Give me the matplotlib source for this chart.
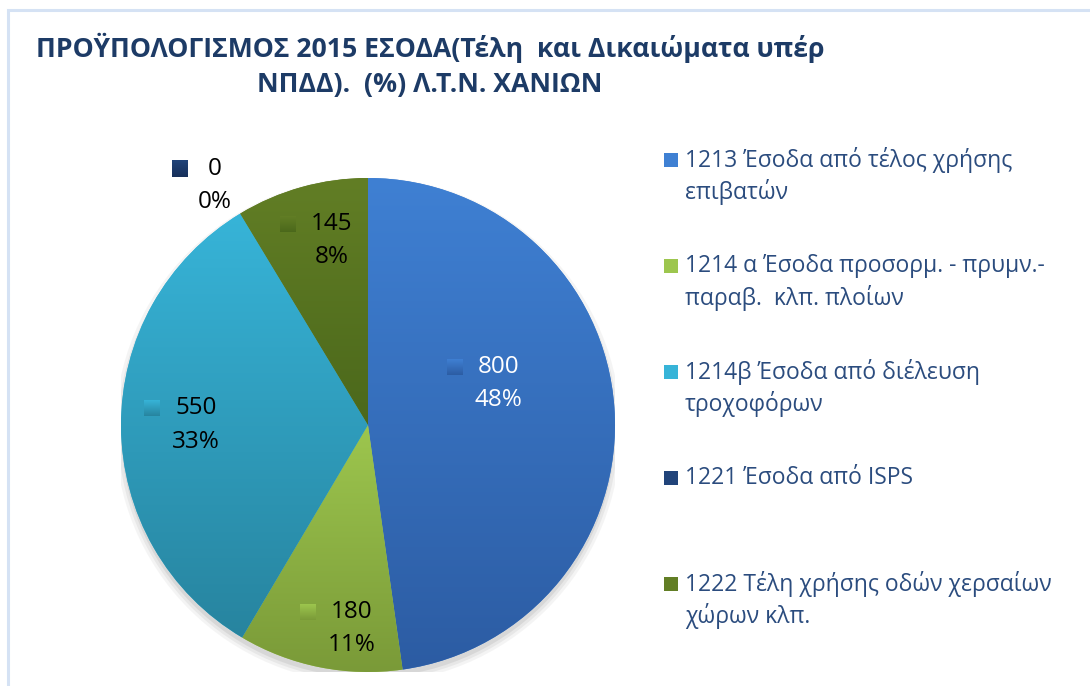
import numpy as np
import matplotlib
matplotlib.use("Agg")
import matplotlib.pyplot as plt
from matplotlib.colors import LinearSegmentedColormap
from matplotlib.patches import Rectangle, Circle

plt.rcParams["font.family"] = ["Open Sans", "DejaVu Sans"]

# --- data
title_lines = [
    "ΠΡΟΫΠΟΛΟΓΙΣΜΟΣ 2015 ΕΣΟΔΑ(Τέλη  και Δικαιώματα υπέρ",
    "ΝΠΔΔ).  (%) Λ.Τ.Ν. ΧΑΝΙΩΝ",
]
categories = [
    ["1213 Έσοδα από τέλος χρήσης", "επιβατών"],
    ["1214 α Έσοδα προσορμ. - πρυμν.-", "παραβ.  κλπ. πλοίων"],
    ["1214β Έσοδα από διέλευση", "τροχοφόρων"],
    ["1221 Έσοδα από ISPS"],
    ["1222 Τέλη χρήσης οδών χερσαίων", "χώρων κλπ."],
]
values = [800, 180, 550, 0, 145]
pct_labels = ["48%", "11%", "33%", "0%", "8%"]

# --- styling
top_colors = ["#3f80d3", "#9dc64e", "#37b4d8", "#21447a", "#627e25"]
bottom_colors = ["#2c5ca3", "#7a9a38", "#27849f", "#17305a", "#4b681b"]
label_colors = ["white", "black", "black", "black", "black"]
# label block centres in pie units (radius = 1)
label_pos = [(0.53, 0.166), (-0.065, -0.824), (-0.696, 0.0), (-0.619, 0.97), (-0.146, 0.745)]

W, H = 1090, 686
fig = plt.figure(figsize=(W / 100, H / 100), dpi=100)


def fx(px):
    return px / W


def fy(py):
    return 1 - py / H


# chart area border
fig.patches.append(Rectangle((fx(8), -0.1), 1.2, fy(10) + 0.1, transform=fig.transFigure,
                             facecolor="none", edgecolor="#d5e2f4", linewidth=2.2))

# title
for i, line in enumerate(title_lines):
    fig.text(fx(430), fy(48 + 37 * i), line, ha="center", va="center",
             fontsize=19.2, fontweight="bold", color="#1d3b66")

# pie axes: centre (368, 425) px, radius 247 px
cx, cy, r = 368, 425, 247
ax = fig.add_axes([fx(cx - r), fy(cy + r), 2 * r / W, 2 * r / H])

# soft shadow under the pie
for k, a in enumerate([0.08, 0.10, 0.14]):
    ax.add_patch(Circle((0.0, -0.022), 1.0 + 0.012 * (2 - k), color="#7a7a7a",
                        alpha=a, linewidth=0, zorder=0))

wedges, _ = ax.pie(values, startangle=90, counterclock=False, radius=1,
                   colors=top_colors, wedgeprops=dict(linewidth=0, zorder=1))

grad = np.linspace(0, 1, 256).reshape(-1, 1)
cmaps = [LinearSegmentedColormap.from_list("g%d" % i, [a, b])
         for i, (a, b) in enumerate(zip(top_colors, bottom_colors))]
for w, cm, v in zip(wedges, cmaps, values):
    if v == 0:
        continue
    ext = w.get_path().get_extents()
    im = ax.imshow(grad, cmap=cm, extent=[ext.x0, ext.x1, ext.y0, ext.y1],
                   aspect="auto", origin="upper", zorder=2, interpolation="bilinear")
    im.set_clip_path(w)

# data labels
lh = 16.5 / r
msz = 16 / r
for (lx, ly), v, p, col, cm in zip(label_pos, values, pct_labels, label_colors, cmaps):
    ax.text(lx, ly + lh, str(v), ha="center", va="center", fontsize=17.5, color=col,
            zorder=5, clip_on=False)
    ax.text(lx, ly - lh, p, ha="center", va="center", fontsize=17.5, color=col,
            zorder=5, clip_on=False)
    mx = lx - (30.5 + 4.5 * len(str(v))) / r
    ax.imshow(grad, cmap=cm, extent=[mx - msz / 2, mx + msz / 2, ly + lh - msz / 2, ly + lh + msz / 2],
              aspect="auto", origin="upper", zorder=5, clip_on=False, interpolation="bilinear")

ax.set_xlim(-1, 1)
ax.set_ylim(-1, 1)
ax.set_aspect("auto")
ax.axis("off")

# legend drawn entry by entry (Excel-style fixed slots)
for i, (lines, c) in enumerate(zip(categories, top_colors)):
    y0 = 160 + 106 * i
    fig.patches.append(Rectangle((fx(664), fy(y0 + 7)), 14 / W, 14 / H,
                                 transform=fig.transFigure, facecolor=c, edgecolor="none"))
    for j, t in enumerate(lines):
        fig.text(fx(685), fy(y0 + 32 * j), t, ha="left", va="center",
                 fontsize=16.5, color="#2b4c7e")

fig.savefig("out.png", dpi=100)
